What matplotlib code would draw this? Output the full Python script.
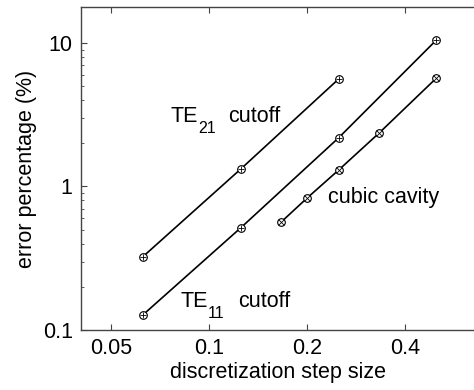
import matplotlib
matplotlib.use('Agg')
import matplotlib.pyplot as plt
from matplotlib.ticker import FixedLocator, NullFormatter, LogLocator

plt.rcParams['font.family'] = ['Liberation Sans', 'DejaVu Sans']

# data
te21_step = [1 / 16, 1 / 8, 1 / 4]
te21_err = [0.323, 1.32, 5.6]

te11_step = [1 / 16, 1 / 8, 1 / 4, 1 / 2]
te11_err = [0.127, 0.514, 2.18, 10.5]

cavity_step = [1 / 6, 1 / 5, 1 / 4, 1 / 3, 1 / 2]
cavity_err = [0.566, 0.83, 1.30, 2.36, 5.7]

x_ticks = [0.05, 0.1, 0.2, 0.4]
x_tick_labels = ['0.05', '0.1', '0.2', '0.4']
y_ticks = [0.1, 1, 10]
y_tick_labels = ['0.1', '1', '10']

fig = plt.figure(figsize=(4.74, 3.9), dpi=100)
ax = fig.add_axes([81 / 474, 1 - 330 / 390, 1 - 81 / 474, (330 - 7) / 390])


def draw_series(x, y, inner):
	ax.plot(x, y, color='black', lw=1.2, marker='o', ms=5.5, mfc='white', mec='black', mew=0.8)
	ax.plot(x, y, ls='none', marker=inner, ms=4.5, color='black', mew=0.6)


def mode_label(x, y, sub):
	# "TE" + lowered subscript + "cutoff", placed by hand like the original
	ax.text(x, y, 'TE', fontsize=15.5, ha='left', va='baseline')
	ax.annotate(sub, (x, y), xytext=(28, -11), textcoords='offset pixels',
				fontsize=11.5, ha='left', va='baseline')
	ax.annotate('cutoff', (x, y), xytext=(58, 0), textcoords='offset pixels',
				fontsize=15.5, ha='left', va='baseline')


draw_series(te21_step, te21_err, '+')
draw_series(te11_step, te11_err, '+')
draw_series(cavity_step, cavity_err, 'x')

ax.set_xscale('log')
ax.set_yscale('log')
ax.set_xlim(0.0404, 0.652)
ax.set_ylim(0.1, 17.8)

ax.xaxis.set_major_locator(FixedLocator(x_ticks))
ax.set_xticklabels(x_tick_labels)
ax.xaxis.set_minor_locator(FixedLocator([]))
ax.yaxis.set_major_locator(FixedLocator(y_ticks))
ax.set_yticklabels(y_tick_labels)
ax.yaxis.set_minor_locator(LogLocator(base=10, subs=range(2, 10)))
ax.yaxis.set_minor_formatter(NullFormatter())

ax.tick_params(which='both', direction='in', top=True, labelsize=15.5, color='#444444')
ax.tick_params(which='major', length=4, pad=6)
ax.tick_params(which='minor', length=2)
ax.spines['right'].set_visible(False)
for s in ['left', 'bottom', 'top']:
	ax.spines[s].set_color('#444444')
	ax.spines[s].set_linewidth(1.0)

ax.set_xlabel('discretization step size', fontsize=15.5, labelpad=2)
ax.set_ylabel('error percentage (%)', fontsize=15.5, labelpad=4)

mode_label(0.0759, 2.815, '21')
mode_label(0.0815, 0.145, '11')
ax.text(0.232, 0.767, 'cubic cavity', fontsize=15.5, ha='left', va='baseline')

fig.savefig('out.png', dpi=100)
